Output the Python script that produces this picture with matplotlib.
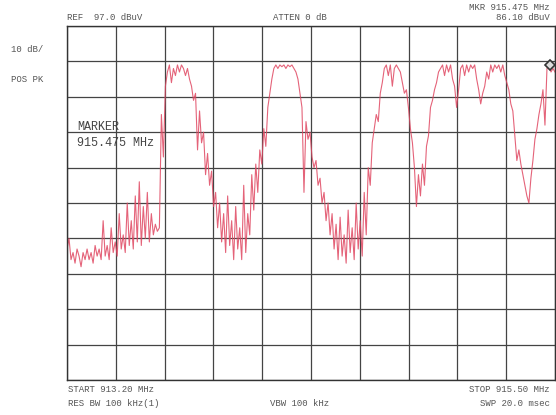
import numpy as np
import matplotlib
matplotlib.use("Agg")
import matplotlib.pyplot as plt

# analyzer settings
START_MHZ = 913.20
STOP_MHZ = 915.50
REF_DBUV = 97.0
DB_PER_DIV = 10
MKR_FREQ = 915.475
MKR_LEVEL = 86.10

# trace levels in dBuV, one per sweep point from START to STOP
level = [
    34, 37, 31, 33, 30, 34, 32, 29, 33, 31, 34, 31, 33, 30, 35, 32, 34, 31, 42, 32,
    35, 31, 40, 33, 36, 32, 44, 34, 38, 33, 47, 35, 42, 34, 49, 36, 53, 35, 46, 37,
    50, 36, 44, 38, 41, 39,
    40, 72, 60, 80, 84, 86, 81, 85, 83, 86, 84, 86, 85, 83, 85, 82, 80, 76, 78, 62,
    73, 64, 67, 55, 61, 52, 56, 46, 50,
    40, 47, 36, 44, 33, 49, 35, 42, 31, 46, 34, 40, 31, 52, 33, 44, 38,
    55, 45, 58, 50, 62, 58, 68, 63, 74, 78, 82, 85, 86, 85, 86, 85.5, 86, 85, 86,
    85.5, 86, 85, 84, 82, 78, 74, 50, 70, 65, 67, 60, 57, 59, 52, 54, 47, 50, 42,
    47, 38, 44, 34, 41, 31, 43, 32, 38, 30, 45, 33, 40, 31, 47, 34, 42, 32, 50,
    38, 57, 52, 64, 68, 72, 70, 78, 81, 85, 86, 83, 86, 80, 85, 86, 85, 84,
    81, 78, 79, 74, 68, 64, 57, 46, 55, 49, 58, 52, 63, 66, 74, 76, 79, 81, 84,
    85, 86, 83, 86, 84, 86, 82, 80, 74, 79, 85, 86, 83, 86, 84, 86, 85, 86, 82,
    79, 75, 78, 80, 84, 82, 86, 84, 86, 85, 86, 84, 86, 83, 81, 79, 75, 73, 66,
    59, 62, 58, 55, 52, 49, 47, 54, 59, 65, 68, 72, 75, 79, 69, 85, 86.1, 84, 85, 84,
]

freq = np.linspace(START_MHZ, STOP_MHZ, len(level))

W, H = 556, 415
fig = plt.figure(figsize=(W / 100, H / 100), dpi=100)
fig.patch.set_facecolor("white")
ax = fig.add_axes([67 / W, 35 / H, 488 / W, 354 / H])

ax.plot(freq, level, color="#e04862", lw=0.8, alpha=0.85)
ax.plot([MKR_FREQ], [MKR_LEVEL], marker="D", ms=5.5, mfc="#dddddd",
        mec="#333333", mew=1.2, ls="none")

bottom = REF_DBUV - 10 * DB_PER_DIV
ax.set_xlim(START_MHZ, STOP_MHZ)
ax.set_ylim(bottom, REF_DBUV)
ax.set_xticks(np.linspace(START_MHZ, STOP_MHZ, 11))
ax.set_yticks(np.linspace(bottom, REF_DBUV, 11))
ax.tick_params(length=0, labelbottom=False, labelleft=False)
ax.grid(True, color="#444444", lw=0.9)
for s in ax.spines.values():
    s.set_color("#333333")
    s.set_linewidth(1.0)

mono = "Liberation Mono"
small = dict(family=mono, fontsize=6.5, color="#555555", va="center")


def txt(x, y, s, **kw):
    d = dict(small)
    d.update(kw)
    fig.text(x / W, 1 - y / H, s, **d)


txt(67, 18, "REF  97.0 dBuV")
txt(273, 18, "ATTEN 0 dB")
txt(550, 7, "MKR 915.475 MHz", ha="right")
txt(550, 18, "86.10 dBuV", ha="right")
txt(11, 49, "10 dB/")
txt(11, 80, "POS PK")
txt(77, 127, "MARKER", fontsize=8.5, color="#444444")
txt(77, 143, "915.475 MHz", fontsize=8.5, color="#444444")
txt(68, 389, "START 913.20 MHz")
txt(68, 403, "RES BW 100 kHz(1)")
txt(270, 403, "VBW 100 kHz")
txt(550, 389, "STOP 915.50 MHz", ha="right")
txt(550, 403, "SWP 20.0 msec", ha="right")

fig.savefig("out.png", dpi=100)
